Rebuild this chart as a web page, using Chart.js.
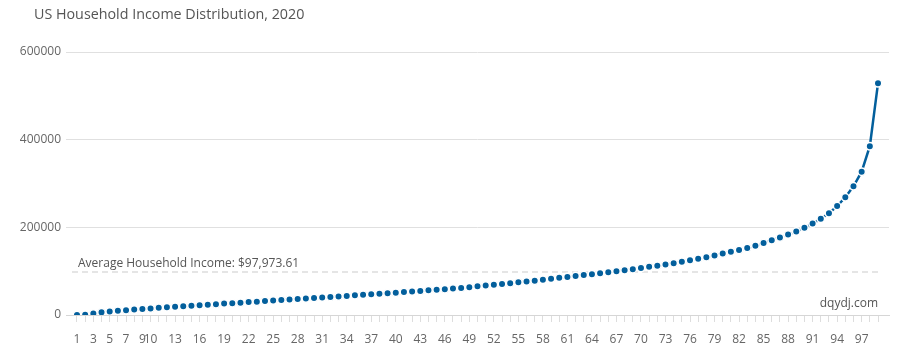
<!DOCTYPE html>
<html>
<head>
<meta charset="utf-8">
<script src="https://cdn.jsdelivr.net/npm/chart.js@4"></script>
<style>
  html, body { margin: 0; padding: 0; background: #fff; }
  #wrap { width: 897px; height: 354px; }
</style>
</head>
<body>
<div id="wrap"><canvas id="incomeChart" width="897" height="354"></canvas></div>
<script>
// percentiles on the x axis
const percentiles = [
   1,  2,  3,  4,  5,  6,  7,  8,  9, 10, 11, 12, 13, 14, 15, 16, 17, 18, 19, 20,
  21, 22, 23, 24, 25, 26, 27, 28, 29, 30, 31, 32, 33, 34, 35, 36, 37, 38, 39, 40,
  41, 42, 43, 44, 45, 46, 47, 48, 49, 50, 51, 52, 53, 54, 55, 56, 57, 58, 59, 60,
  61, 62, 63, 64, 65, 66, 67, 68, 69, 70, 71, 72, 73, 74, 75, 76, 77, 78, 79, 80,
  81, 82, 83, 84, 85, 86, 87, 88, 89, 90, 91, 92, 93, 94, 95, 96, 97, 98, 99
];

// household income at each percentile
const incomes = [
       0,    800,   3500,   6000,   8000,   9500,  11000,  12500,  13800,  15000,
   16300,  17500,  18800,  20000,  21000,  22200,  23500,  24800,  26000,  27000,
   28200,  29500,  30500,  31800,  33000,  34000,  35200,  36500,  37600,  38800,
   40000,  41200,  42400,  43500,  44800,  46000,  47200,  48500,  49800,  51000,
   52400,  53600,  55000,  56300,  57600,  59000,  60300,  61800,  63400,  65500,
   67200,  69000,  70800,  72600,  74500,  76400,  78400,  80500,  82700,  85000,
   86800,  88800,  91000,  93000,  95200,  97500,  99800, 102200, 104600, 107000,
  109800, 112500, 115300, 118300, 121500, 124800, 128200, 132000, 136000, 140500,
  144500, 148500, 153000, 158000, 164000, 170500, 177000, 183500, 190500, 199000,
  208500, 219500, 232000, 248500, 268500, 293500, 327000, 385000, 528500
];

// which percentiles get a label under the axis
const xTickLabels = [1, 3, 5, 7, 9, 10, 13, 16, 19, 22, 25, 28, 31, 34, 37, 40, 43, 46, 49,
  52, 55, 58, 61, 64, 67, 70, 73, 76, 79, 82, 85, 88, 91, 94, 97];

const yTicks = [0, 200000, 400000, 600000];

const avgIncome = 97973.61;

const chartTitle = 'US Household Income Distribution, 2020';
const watermark = 'dqydj.com';

const lineColor = '#035f9c';
const fontFamily = '"Open Sans", "Noto Sans", sans-serif';

// extra texts and the average line
const overlayPlugin = {
  id: 'overlay',
  beforeDatasetsDraw(chart) {
    const { ctx, chartArea, scales } = chart;
    const yAvg = scales.y.getPixelForValue(avgIncome);
    ctx.save();

    // dashed average line
    ctx.strokeStyle = '#dddddd';
    ctx.lineWidth = 1.5;
    ctx.setLineDash([6, 4]);
    ctx.beginPath();
    ctx.moveTo(chartArea.left + 6, yAvg);
    ctx.lineTo(chartArea.right - 11, yAvg);
    ctx.stroke();
    ctx.setLineDash([]);

    ctx.fillStyle = '#555555';
    ctx.font = '12px ' + fontFamily;
    ctx.textBaseline = 'bottom';
    ctx.textAlign = 'left';
    const avgText = 'Average Household Income: $' +
      avgIncome.toLocaleString('en-US', { minimumFractionDigits: 2, maximumFractionDigits: 2 });
    ctx.fillText(avgText, chartArea.left + 12, yAvg - 2);

    // watermark
    ctx.textAlign = 'right';
    ctx.textBaseline = 'middle';
    ctx.fillText(watermark, scales.x.getPixelForValue(99), chartArea.bottom - 11);

    // title
    ctx.font = '14.3px ' + fontFamily;
    ctx.textAlign = 'left';
    ctx.fillText(chartTitle, 34, 15);
    ctx.restore();
  }
};

const points = percentiles.map((p, i) => ({ x: p, y: incomes[i] }));

new Chart(document.getElementById('incomeChart'), {
  type: 'line',
  data: {
    datasets: [{
      label: 'Household income',
      data: points,
      borderColor: lineColor,
      backgroundColor: lineColor,
      borderWidth: 2.5,
      pointRadius: 3.75,
      pointBorderWidth: 1.5,
      pointBorderColor: '#ffffff',
      pointBackgroundColor: lineColor,
      tension: 0
    }]
  },
  options: {
    responsive: false,
    animation: false,
    layout: { padding: { top: 52, right: 8, left: 0, bottom: 0 } },
    plugins: {
      legend: { display: false },
      tooltip: { enabled: false },
      title: { display: false }
    },
    scales: {
      x: {
        type: 'linear',
        min: -0.3458,
        max: 100.3458,
        afterBuildTicks(scale) {
          scale.ticks = percentiles.map(v => ({ value: v }));
        },
        afterFit(scale) { scale.height = 39; },
        grid: { drawOnChartArea: false, drawTicks: true, tickLength: 7, color: '#dddddd' },
        border: { color: '#d6d6d6', width: 1 },
        ticks: {
          autoSkip: false,
          maxRotation: 0,
          padding: 10,
          color: '#666666',
          font: { size: 12, family: fontFamily },
          callback: v => xTickLabels.includes(v) ? String(v) : ''
        }
      },
      y: {
        min: 0,
        max: 600000,
        afterBuildTicks(scale) {
          scale.ticks = yTicks.map(v => ({ value: v }));
        },
        afterFit(scale) { scale.width = 66; },
        grid: { color: '#e0e0e0', drawTicks: false, lineWidth: 1 },
        border: { display: false },
        ticks: {
          padding: 5,
          color: '#666666',
          font: { size: 12, family: fontFamily },
          callback: v => String(v)
        }
      }
    }
  },
  plugins: [overlayPlugin]
});
</script>
</body>
</html>
